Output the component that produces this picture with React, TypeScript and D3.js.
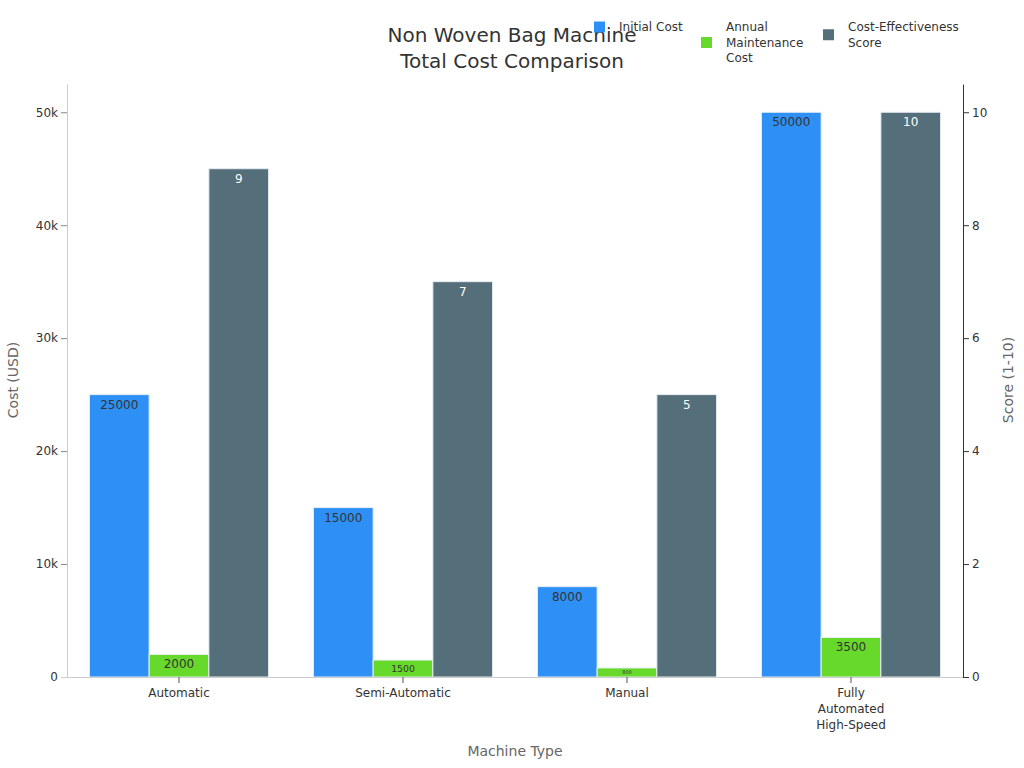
import React, { useEffect, useRef } from "react";
import * as d3 from "d3";

const categories = ["Automatic", "Semi-Automatic", "Manual", "Fully Automated High-Speed"];
const categoryLines = [["Automatic"], ["Semi-Automatic"], ["Manual"], ["Fully", "Automated", "High-Speed"]];
const initialCost = [25000, 15000, 8000, 50000];
const maintenanceCost = [2000, 1500, 800, 3500];
const effectivenessScore = [9, 7, 5, 10];
const costTicks = [0, 10000, 20000, 30000, 40000, 50000];
const scoreTicks = [0, 2, 4, 6, 8, 10];
const seriesNames = ["Initial Cost", "Annual Maintenance Cost", "Cost-Effectiveness Score"];
const colors = ["#2E90F5", "#66D92A", "#546E7A"];

export default function App() {
  const ref = useRef<SVGSVGElement>(null);
  useEffect(() => {
    const svg = d3.select(ref.current);
    svg.selectAll("*").remove();
    const W = 1024, H = 768;
    const m = { left: 67, right: 61, top: 84, bottom: 91 };
    const font = "DejaVu Sans, sans-serif";
    const x0 = d3.scaleBand().domain(categories).range([m.left, W - m.right]).paddingInner(0).paddingOuter(0);
    const inner = x0.bandwidth() * 0.8;
    const x1 = d3.scaleBand().domain(["a", "b", "c"]).range([0, inner]);
    const yL = d3.scaleLinear().domain([0, 52500]).range([H - m.bottom, m.top]);
    const yR = d3.scaleLinear().domain([0, 10.5]).range([H - m.bottom, m.top]);
    const g = svg.append("g");

    // bars
    const series = [
      { key: "a", vals: initialCost, scale: yL, color: colors[0], text: "#333" },
      { key: "b", vals: maintenanceCost, scale: yL, color: colors[1], text: "#333" },
      { key: "c", vals: effectivenessScore, scale: yR, color: colors[2], text: "#fff" },
    ];
    series.forEach((s) => {
      categories.forEach((c, i) => {
        const v = s.vals[i];
        const xx = (x0(c) as number) + x0.bandwidth() * 0.1 + (x1(s.key) as number);
        const top = s.scale(v);
        const h = s.scale(0) - top;
        g.append("rect").attr("x", xx).attr("y", top).attr("width", x1.bandwidth()).attr("height", h)
          .attr("fill", s.color).attr("stroke", "#e8eef3").attr("stroke-width", 1);
        const fs = Math.min(12, h * 0.55);
        g.append("text").attr("x", xx + x1.bandwidth() / 2).attr("y", top + Math.min(10, h / 2))
          .attr("dominant-baseline", "central").attr("text-anchor", "middle")
          .attr("font-family", font).attr("font-size", fs).attr("fill", s.text).text(String(v));
      });
    });

    // left axis
    const la = g.append("g").attr("transform", `translate(${m.left},0)`)
      .call(d3.axisLeft(yL).tickValues(costTicks).tickFormat((d: any) => (d === 0 ? "0" : d / 1000 + "k")).tickSize(6).tickSizeOuter(0));
    la.select(".domain").attr("stroke", "#ccc");
    la.selectAll(".tick line").attr("stroke", "#888");
    la.selectAll("text").attr("font-family", font).attr("font-size", 12).attr("fill", "#333");

    // right axis
    const ra = g.append("g").attr("transform", `translate(${W - m.right},0)`)
      .call(d3.axisRight(yR).tickValues(scoreTicks).tickSize(6).tickSizeOuter(0));
    ra.select(".domain").attr("stroke", "#333");
    ra.selectAll(".tick line").attr("stroke", "#333");
    ra.selectAll("text").attr("font-family", font).attr("font-size", 12).attr("fill", "#333");

    // bottom axis
    const ba = g.append("g").attr("transform", `translate(0,${H - m.bottom})`)
      .call(d3.axisBottom(x0).tickSize(6).tickSizeOuter(0).tickFormat(() => ""));
    ba.select(".domain").attr("stroke", "#ccc").attr("d", `M${m.left - 6},0.5H${W - m.right}`);
    ba.selectAll(".tick line").attr("stroke", "#555");
    categories.forEach((c, i) => {
      const t = g.append("text").attr("text-anchor", "middle").attr("font-family", font)
        .attr("font-size", 12).attr("fill", "#333");
      categoryLines[i].forEach((ln, j) => {
        t.append("tspan").attr("x", (x0(c) as number) + x0.bandwidth() / 2).attr("y", 697 + j * 16).text(ln);
      });
    });

    // axis titles
    g.append("text").attr("transform", `translate(18,380) rotate(-90)`).attr("text-anchor", "middle")
      .attr("font-family", font).attr("font-size", 14).attr("fill", "#666").text("Cost (USD)");
    g.append("text").attr("transform", `translate(1013,380) rotate(-90)`).attr("text-anchor", "middle")
      .attr("font-family", font).attr("font-size", 14).attr("fill", "#666").text("Score (1-10)");
    g.append("text").attr("x", 515).attr("y", 756).attr("text-anchor", "middle")
      .attr("font-family", font).attr("font-size", 14).attr("fill", "#666").text("Machine Type");

    // title
    const title = g.append("text").attr("text-anchor", "middle").attr("font-family", font)
      .attr("font-size", 20).attr("fill", "#333");
    title.append("tspan").attr("x", 512).attr("y", 42).text("Non Woven Bag Machine");
    title.append("tspan").attr("x", 512).attr("y", 68).text("Total Cost Comparison");

    // legend
    const legend = [
      { x: 594, lines: ["Initial Cost"] },
      { x: 701, lines: ["Annual", "Maintenance", "Cost"] },
      { x: 823, lines: ["Cost-Effectiveness", "Score"] },
    ];
    legend.forEach((l, i) => {
      const n = l.lines.length;
      const cy = 27 + ((n - 1) * 15.5) / 2;
      g.append("rect").attr("x", l.x).attr("y", cy - 5.5).attr("width", 11).attr("height", 11).attr("fill", colors[i]);
      const t = g.append("text").attr("font-family", font).attr("font-size", 12).attr("fill", "#333");
      l.lines.forEach((ln, j) => {
        t.append("tspan").attr("x", l.x + 25).attr("y", 31 + j * 15.5).text(ln);
      });
    });
    void seriesNames;
  }, []);
  return (
    <svg ref={ref} width={1024} height={768} style={{ position: "absolute", left: 0, top: 0, background: "#fff" }} />
  );
}
